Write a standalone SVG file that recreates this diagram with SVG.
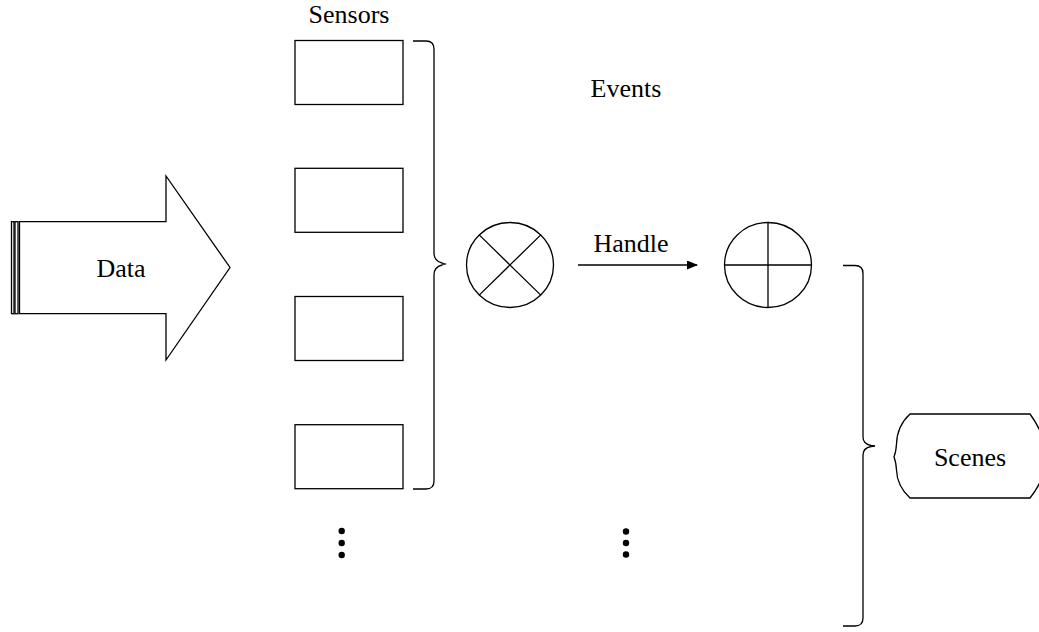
<svg xmlns="http://www.w3.org/2000/svg" width="1039" height="632" viewBox="0 0 1039 632">
<style>
.s{fill:#fff;stroke:#000;stroke-width:1.3}
.ln{fill:none;stroke:#000;stroke-width:1.3}
.t{font-family:"Liberation Serif","Times New Roman",serif;font-size:26px;fill:#000;text-anchor:middle}
.d{fill:#000}
</style>
<defs>
<marker id="ah" markerWidth="11" markerHeight="9" refX="10" refY="4.5" orient="auto" markerUnits="userSpaceOnUse">
<path d="M0,0 L11,4.5 L0,9 Z" fill="#000"/>
</marker>
</defs>
<rect width="1039" height="632" fill="#fff"/>
<g id="data">
<rect class="s" x="11.5" y="221.7" width="2.5" height="92"/>
<rect class="s" x="15" y="221.7" width="3" height="92"/>
<path class="s" d="M19.5,221.7 L166,221.7 L166,176 L230,267.5 L166,360 L166,313.7 L19.5,313.7 Z"/>
<text class="t" x="121" y="277">Data</text>
</g>
<g id="sensors">
<text class="t" x="349" y="23">Sensors</text>
<rect class="s" x="295" y="40.5" width="108" height="64"/>
<rect class="s" x="295" y="168.3" width="108" height="64"/>
<rect class="s" x="295" y="296.5" width="108" height="64"/>
<rect class="s" x="295" y="424.7" width="108" height="64"/>
<circle class="d" cx="341.7" cy="531" r="3.2"/>
<circle class="d" cx="341.7" cy="543" r="3.2"/>
<circle class="d" cx="341.7" cy="555" r="3.2"/>
</g>
<g id="events">
<text class="t" x="626" y="97">Events</text>
<circle class="d" cx="626" cy="531.5" r="3.2"/>
<circle class="d" cx="626" cy="543" r="3.2"/>
<circle class="d" cx="626" cy="554.5" r="3.2"/>
</g>
<g id="mult">
<ellipse class="s" cx="510" cy="265" rx="43.5" ry="42.5"/>
<path class="ln" d="M479.2,234.9 L540.8,295.1 M540.8,234.9 L479.2,295.1"/>
</g>
<g id="add">
<ellipse class="s" cx="768" cy="265" rx="43.5" ry="42.5"/>
<path class="ln" d="M768,222.5 L768,307.5 M724.5,265 L811.5,265"/>
</g>
<g id="scenes">
<path class="s" d="M910,414 L1030,414 Q1046,436 1046,456 Q1046,478 1030,498 L910,498 Q897,486 896.5,470 Q896,462 894,457 Q896,452 896.5,444 Q897,426 910,414 Z"/>
<text class="t" x="970" y="466">Scenes</text>
</g>
<g id="connectors">
<path class="ln" d="M413,41 L426,41 Q434,41 434,49 L434,253 Q434,261 442,263 L445,264 L442,265 Q434,267 434,275 L434,481 Q434,489 426,489 L413,489"/>
<path class="ln" d="M843,265.5 L855,265.5 Q863,265.5 863,273.5 L863,437 Q863,444 871,445.5 L875,446 L871,446.5 Q863,448 863,455 L863,618 Q863,626 855,626 L843,626"/>
<line class="ln" x1="578" y1="265" x2="697" y2="265" marker-end="url(#ah)"/>
<text class="t" x="631" y="252">Handle</text>
</g>
</svg>
